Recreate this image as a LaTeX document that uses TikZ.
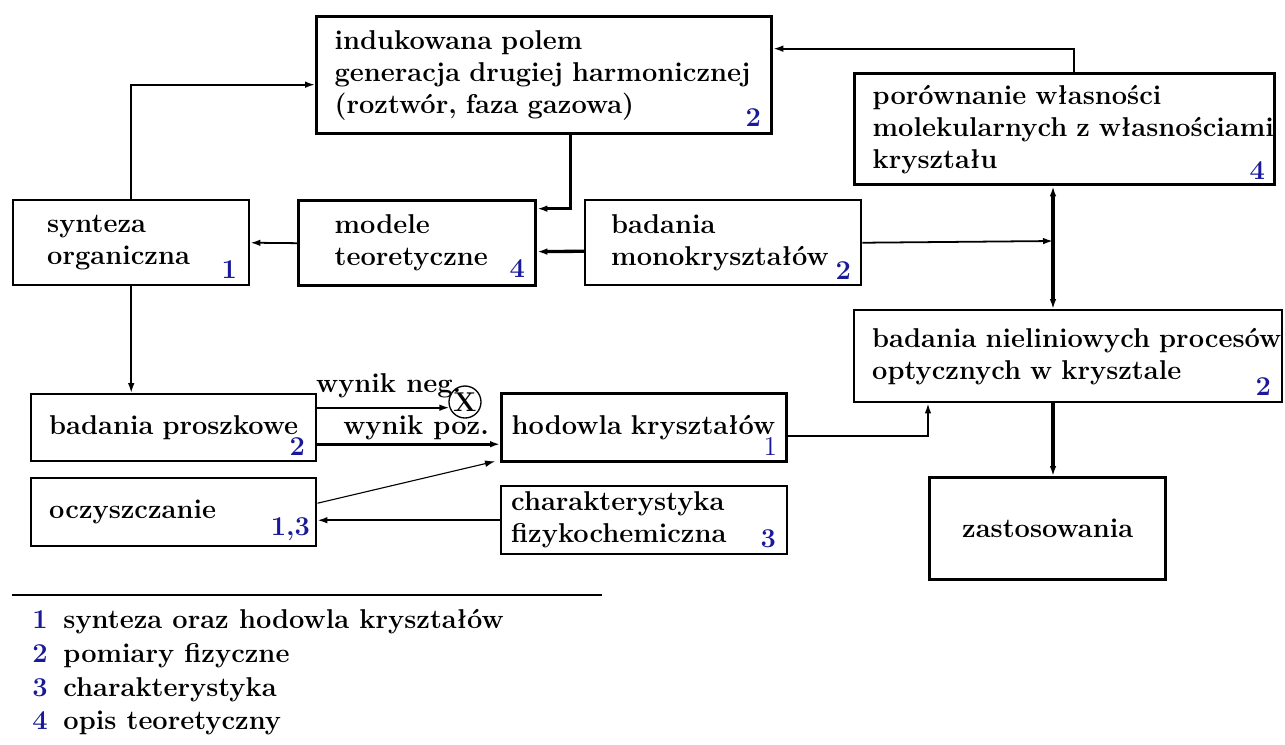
\documentclass[tikz,border=0pt]{standalone}
\usepackage{tikz}
\usetikzlibrary{positioning, arrows, arrows.meta}
\definecolor{numblue}{rgb}{0.1,0.1,0.6}
\newdimen\pxu
\pxu=0.45pt
\newcommand{\napis}{\fontsize{12.25}{14.4}\selectfont}

\begin{document}
\hyphenpenalty=10000
\begin{tikzpicture}[
    x=0.45pt, y=-0.45pt, % one unit = one pixel of the sketch
    every node/.style={font=\napis\bfseries},
    blok/.style={draw, line width=1.1pt, anchor=north west, inner ysep=0pt, align=left},
    gruby/.style={line width=1.5pt},
    nr/.style={anchor=base east, inner sep=0pt, text=numblue},
    strz/.style={-{Latex[length=4.5pt,width=3pt]}, line width=0.8pt},
    strzg/.style={-{Latex[length=4.5pt,width=3pt]}, line width=1.5pt}
]
    \useasboundingbox (0,0) rectangle (1285,744);

    % 1. Boxes
    \node[blok, gruby, text width=419\pxu, inner xsep=18\pxu, minimum height=117\pxu] (shg) at (315,15)
        {indukowana~polem\\ generacja~drugiej~harmonicznej\\ (roztwór,~faza~gazowa)};
    \node[blok, gruby, text width=384\pxu, inner xsep=18\pxu, minimum height=111\pxu] (por) at (853,72)
        {porównanie~własności\\ \mbox{molekularnych~z~własnościami}\\ kryształu};
    \node[blok, text width=168\pxu, inner xsep=34\pxu, minimum height=85\pxu] (syn) at (12,199)
        {synteza\\ organiczna};
    \node[blok, gruby, text width=165\pxu, inner xsep=36\pxu, minimum height=85\pxu] (mod) at (297,199)
        {modele\\ teoretyczne};
    \node[blok, text width=224\pxu, inner xsep=26\pxu, minimum height=85\pxu] (mon) at (584,199)
        {badania\\ monokryształów};
    \node[blok, text width=392\pxu, inner xsep=18\pxu, minimum height=92\pxu] (nie) at (853,309)
        {\mbox{badania~nieliniowych~procesów}\\ optycznych~w~krysztale};
    \node[blok, text width=249\pxu, inner xsep=18\pxu, minimum height=67\pxu] (pro) at (30,393)
        {badania~proszkowe};
    \node[blok, gruby, text width=265\pxu, inner xsep=10\pxu, minimum height=68\pxu] (hod) at (500,392)
        {\mbox{hodowla~kryształów}};
    \node[blok, text width=249\pxu, inner xsep=18\pxu, minimum height=68\pxu] (ocz) at (30,477)
        {oczyszczanie};
    \node[blok, text width=266\pxu, inner xsep=10\pxu, minimum height=68\pxu] (cha) at (500,485)
        {charakterystyka\\ fizykochemiczna};
    \node[blok, gruby, align=center, minimum width=236\pxu, minimum height=102\pxu] (zas) at (928,476)
        {zastosowania};

    % numbers of the groups
    \node[nr] (shg_nr) at ([xshift=-12\pxu, yshift=9\pxu]shg.south east) {2};
    \node[nr] (por_nr) at ([xshift=-11\pxu, yshift=7\pxu]por.south east) {4};
    \node[nr] (syn_nr) at ([xshift=-13\pxu, yshift=8\pxu]syn.south east) {1};
    \node[nr] (mod_nr) at ([xshift=-12\pxu, yshift=10\pxu]mod.south east) {4};
    \node[nr] (mon_nr) at ([xshift=-11\pxu, yshift=7\pxu]mon.south east) {2};
    \node[nr] (nie_nr) at ([xshift=-12\pxu, yshift=8\pxu]nie.south east) {2};
    \node[nr] (pro_nr) at ([xshift=-12\pxu, yshift=7\pxu]pro.south east) {2};
    \node[nr, font=\napis] (hod_nr) at ([xshift=-11\pxu, yshift=8\pxu]hod.south east) {1};
    \node[nr] (ocz_nr) at ([xshift=-7\pxu, yshift=12\pxu]ocz.south east) {1,3};
    \node[nr] (cha_nr) at ([xshift=-12\pxu, yshift=8\pxu]cha.south east) {3};

    % the crossed-out end
    \node[circle, draw, line width=0.6pt, minimum size=32\pxu, inner sep=0pt] (iks) at (465,402) {X};

    % junction on the right
    \coordinate (pion) at (1053,241);

    % 2. Arrows
    \draw[strz] (syn.north) |- ([yshift=-9.5\pxu]shg.west);
    \draw[strzg] ([xshift=26\pxu]shg.south) |- ([yshift=34.5\pxu]mod.east);
    \draw[strz] (mod.west) -- (syn.east);
    \draw[strzg] ([yshift=-8.5\pxu]mon.west) -- ([yshift=-8.5\pxu]mod.east);
    \draw[strz] (mon.east) -- (pion);
    \draw[strz] ([xshift=9\pxu]por.north) |- ([yshift=26.5\pxu]shg.east);
    \draw[strzg, {Latex[length=4.5pt,width=3pt]}-{Latex[length=4.5pt,width=3pt]}] (pion |- por.south) -- (pion |- nie.north);
    \draw[strzg] (pion |- nie.south) -- (pion |- zas.north);
    \draw[strz] (syn.south) -- (syn.south |- pro.north);
    \draw[strz] (pro.east |- iks.200) -- (iks.200)
        node[pos=0.54, anchor=base, yshift=15\pxu] {wynik~neg.};
    \draw[strzg] ([yshift=-16.5\pxu]pro.east) -- ([yshift=-16.5\pxu]pro.east -| hod.west)
        node[pos=0.54, anchor=base, yshift=10\pxu] {wynik~poz.};
    \draw[strz, line width=0.5pt] ([yshift=9\pxu]ocz.east) -- ([xshift=-5\pxu, yshift=2\pxu]hod.south west);
    \draw[strz] (cha.west) -- (cha.west -| ocz.east);
    \draw[strz] ([yshift=-8\pxu]hod.east) -| (zas.west |- nie.south);

    % 3. Legend
    \draw[line width=1pt] (12,595) -- (602,595);
    \node[nr, anchor=base west] (l1) at (32,628) {1};
    \node[anchor=base west, inner sep=0pt] (t1) at (63,628) {synteza oraz hodowla kryształów};
    \node[nr, anchor=base west] (l2) at (32,662) {2};
    \node[anchor=base west, inner sep=0pt] (t2) at (63,662) {pomiary fizyczne};
    \node[nr, anchor=base west] (l3) at (32,696) {3};
    \node[anchor=base west, inner sep=0pt] (t3) at (63,696) {charakterystyka};
    \node[nr, anchor=base west] (l4) at (32,729) {4};
    \node[anchor=base west, inner sep=0pt] (t4) at (63,729) {opis teoretyczny};
\end{tikzpicture}
\end{document}
